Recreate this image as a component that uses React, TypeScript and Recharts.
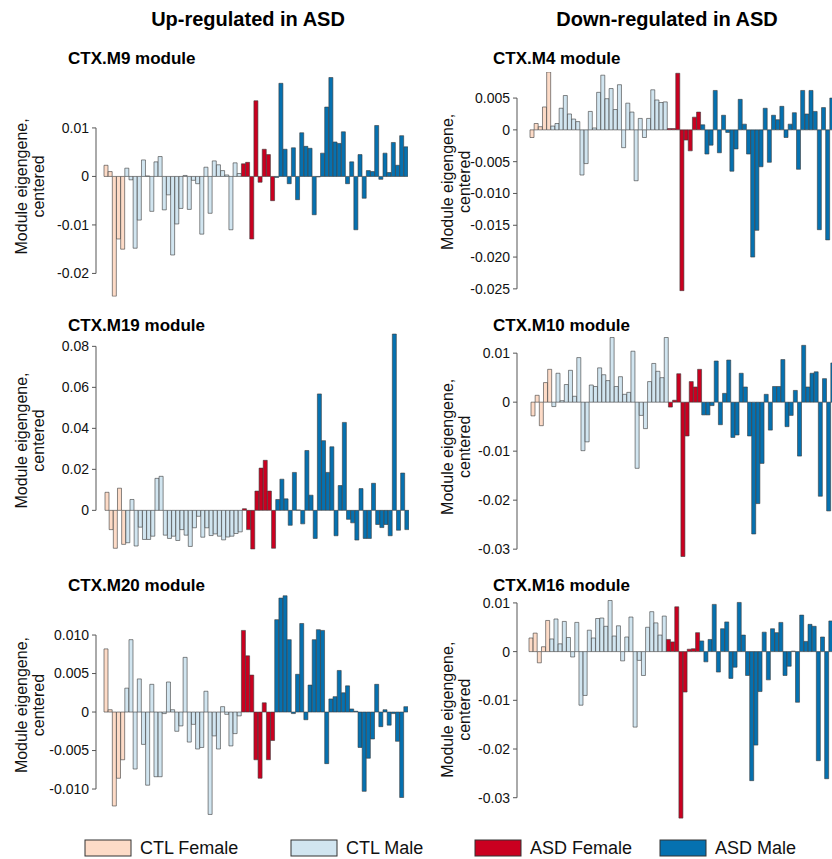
import React from "react";
import { BarChart, Bar, XAxis, YAxis, Cell } from "recharts";

const FONT = "'Liberation Sans', Arial, sans-serif";

// sample groups, in plotting order
const groupNames = ["CTL Female", "CTL Male", "ASD Female", "ASD Male"];
const groupColors = ["#FDDBC7", "#D1E5F0", "#CA0020", "#0571B0"];
const groupSizes = [5, 28, 8, 32];

// module eigengene values per sample
const m9 = [0.0023, 0.001, -0.0247, -0.0129, -0.015, 0.0017, -0.0007, -0.0148, -0.009, 0.0034, 0.0001, -0.0072, 0.003, 0.0041, -0.0069, -0.0038, -0.0162, -0.0098, -0.0066, 0.0002, -0.0068, -0.0008, -0.0015, -0.0119, 0.0019, -0.0076, 0.0032, 0.0024, 0.0012, 0.0003, -0.011, 0.0028, 0.0006, 0.0026, 0.0029, -0.0129, 0.0156, -0.0012, 0.0056, 0.0045, -0.005, -0.0002, 0.0192, 0.0056, -0.0015, 0.0059, -0.0048, 0.009, 0.0062, 0.0058, -0.0079, -0.0001, 0.0048, 0.0143, 0.0204, 0.0071, 0.0068, 0.0092, -0.0015, 0.003, -0.011, 0.0045, -0.0045, 0.0012, 0.001, 0.0105, -0.0006, 0.0048, 0.0008, 0.007, 0.0023, 0.0084, 0.0061];
const m19 = [0.0088, -0.0094, -0.0185, 0.0108, -0.0166, -0.0158, 0.0053, -0.0174, -0.0082, -0.0142, -0.0142, -0.0126, 0.0156, 0.0166, -0.0121, -0.0137, -0.0126, -0.0147, -0.0094, -0.0121, -0.0176, -0.0085, -0.0029, -0.0131, -0.0085, -0.0123, -0.0115, -0.0126, -0.0144, -0.013, -0.0126, -0.0113, -0.0105, 0.0008, -0.0094, -0.0189, 0.0094, 0.0206, 0.0244, 0.0094, -0.0185, 0.0053, 0.0152, 0.0056, -0.0073, 0.0185, 0.0002, -0.0066, 0.0292, 0.0074, -0.0137, 0.0568, 0.034, 0.0185, 0.031, -0.0124, 0.0121, 0.0429, -0.0044, -0.0061, -0.0145, 0.0106, -0.0137, -0.0137, 0.0132, -0.0069, -0.0084, -0.0069, -0.0124, 0.086, -0.0097, 0.0182, -0.0094];
const m20 = [0.0082, 0.0003, -0.0122, -0.0086, -0.0062, 0.0031, 0.0094, -0.0074, 0.0043, -0.0042, -0.0095, 0.0036, -0.0084, -0.0084, -0.0002, 0.0039, 0.0003, -0.0025, -0.0018, 0.0071, -0.0039, -0.0016, -0.0048, -0.0046, 0.0027, -0.0133, -0.0031, -0.0048, 0.0007, -0.0003, -0.0044, -0.0028, -0.0005, 0.0106, 0.0073, 0.0048, -0.0062, -0.0086, 0.0012, -0.0062, -0.0037, 0.012, 0.0148, 0.0151, 0.0094, -0.0002, 0.0049, 0.0115, -0.001, 0.0035, 0.0094, 0.0107, 0.0106, -0.0067, 0.0017, 0.002, 0.0054, 0.0025, 0.0034, 0.0004, 0.0001, -0.0046, -0.0103, -0.006, -0.0035, 0.0036, -0.0019, 0.0003, -0.0017, -0.0002, -0.0038, -0.0111, 0.0007];
const m4 = [-0.0012, 0.001, 0.0005, 0.0036, 0.0091, 0.0006, 0.001, 0.0034, 0.0054, 0.0025, 0.0017, 0.0013, -0.0071, -0.0053, 0.0029, 0.0003, 0.0059, 0.0086, 0.0049, 0.0065, 0.0032, 0.0071, -0.0028, 0.0042, 0.0028, -0.008, 0.0018, -0.0012, 0.0018, 0.0063, 0.0047, 0.0043, 0.0044, 0.0002, 0.0002, 0.0089, -0.0253, -0.0016, -0.0033, 0.002, 0.0028, 0.0008, -0.0038, -0.0024, 0.0062, -0.0036, 0.0023, -0.0004, -0.0065, -0.003, 0.0048, 0.0009, -0.0038, -0.02, -0.0158, -0.0058, 0.0034, -0.0051, 0.0023, 0.0016, 0.0037, -0.0012, 0.0009, 0.0027, -0.0062, 0.0062, 0.0025, 0.0062, 0.0029, -0.0157, 0.0035, -0.0173, 0.005];
const m10 = [-0.0028, 0.0014, -0.0048, 0.004, 0.0067, -0.0009, 0.0059, 0.0003, 0.0036, 0.0065, 0.0012, 0.0091, -0.0099, -0.0081, 0.0035, 0.0032, 0.007, 0.0056, 0.0044, 0.0132, 0.0032, 0.0052, 0.0016, 0.002, 0.0104, -0.0135, -0.0027, -0.0054, 0.0042, 0.0079, 0.0063, 0.005, 0.0132, -0.001, 0.0004, 0.0058, -0.0315, -0.0069, 0.0042, 0.0031, 0.0067, -0.0026, -0.0026, -0.0007, 0.0084, -0.0046, 0.0018, 0.0086, -0.0072, -0.0067, 0.0059, 0.0031, -0.0069, -0.0269, -0.0207, -0.0125, 0.0016, -0.0057, 0.0032, 0.0032, 0.0087, -0.005, -0.0027, 0.0024, -0.011, 0.0116, 0.0031, 0.0059, 0.0062, -0.0192, 0.0048, -0.0222, 0.008];
const m16 = [0.0028, 0.0038, -0.0023, 0.001, 0.0064, 0.0026, 0.0067, 0.0016, 0.0062, 0.0029, -0.0011, 0.006, -0.011, -0.009, 0.0044, 0.0028, 0.0068, 0.0069, 0.0052, 0.0105, 0.0032, 0.0053, -0.0019, 0.003, 0.0071, -0.0155, -0.0018, -0.0049, 0.005, 0.0082, 0.0059, 0.0034, 0.0073, 0.0025, 0.002, 0.0092, -0.0342, -0.0083, 0.0005, 0.0006, 0.0039, 0.0022, -0.0021, 0.0025, 0.0097, -0.0042, 0.0047, 0.0061, -0.0055, -0.0032, 0.0101, 0.0034, -0.0049, -0.0265, -0.0192, -0.0082, 0.004, -0.0058, 0.0047, 0.0039, 0.006, -0.0049, -0.003, 0.0001, -0.0104, 0.0075, 0.0021, 0.0056, 0.0052, -0.0224, 0.003, -0.0261, 0.0063];

// y axis ticks per module
const m9Ticks = [0.01, 0, -0.01, -0.02];
const m19Ticks = [0.08, 0.06, 0.04, 0.02, 0];
const m20Ticks = [0.01, 0.005, 0, -0.005, -0.01];
const m4Ticks = [0.005, 0, -0.005, -0.01, -0.015, -0.02, -0.025];
const m10Ticks = [0.01, 0, -0.01, -0.02, -0.03];
const m16Ticks = [0.01, 0, -0.01, -0.02, -0.03];

const sampleGroup: number[] = groupSizes.flatMap((n, g) => Array(n).fill(g));

const PLOT_W = 304;
const AXIS_W = 70;
const PAD_T = 10;
const PAD_B = 10;

// layout: axisX = y axis line, padL = gap to first bar, y0 = pixel of zero, s = px per unit
const panels = [
  { title: "CTX.M9 module", values: m9, ticks: m9Ticks, digits: 2, axisX: 96, padL: 8, y0: 176, s: 4850, hi: 0.0205, lo: -0.0248, titleY: 64 },
  { title: "CTX.M19 module", values: m19, ticks: m19Ticks, digits: 2, axisX: 96, padL: 9, y0: 510, s: 2050, hi: 0.087, lo: -0.0192, titleY: 331 },
  { title: "CTX.M20 module", values: m20, ticks: m20Ticks, digits: 3, axisX: 96, padL: 8, y0: 712, s: 7700, hi: 0.0152, lo: -0.0134, titleY: 591 },
  { title: "CTX.M4 module", values: m4, ticks: m4Ticks, digits: 3, axisX: 517, padL: 13, y0: 130, s: 6360, hi: 0.0091, lo: -0.0254, titleY: 64 },
  { title: "CTX.M10 module", values: m10, ticks: m10Ticks, digits: 2, axisX: 517, padL: 14, y0: 402, s: 4900, hi: 0.0133, lo: -0.0316, titleY: 331 },
  { title: "CTX.M16 module", values: m16, ticks: m16Ticks, digits: 2, axisX: 517, padL: 12, y0: 652, s: 4870, hi: 0.0106, lo: -0.0343, titleY: 591 },
];

function AxisTick(props: any) {
  const { y, payload, axisX, s, tMax, tMin, digits } = props;
  const v = payload.value;
  const label = v === 0 ? "0" : v.toFixed(digits);
  return (
    <g>
      <line x1={axisX - 4} x2={axisX} y1={y} y2={y} stroke="#555" strokeWidth={1} />
      {v === tMax && (
        <line x1={axisX} x2={axisX} y1={y} y2={y + (tMax - tMin) * s} stroke="#555" strokeWidth={1} />
      )}
      <text x={axisX - 7} y={y} dy="0.35em" textAnchor="end" fontSize={14} fill="#111" fontFamily={FONT}>
        {label}
      </text>
    </g>
  );
}

function Panel({ p }: any) {
  const plotH = (p.hi - p.lo) * p.s;
  const top = p.y0 - p.hi * p.s - PAD_T;
  const data = p.values.map((v: number, i: number) => ({ id: i + 1, v, g: sampleGroup[i] }));
  const tMax = Math.max(...p.ticks);
  const tMin = Math.min(...p.ticks);
  return (
    <div style={{ position: "absolute", left: p.axisX - AXIS_W, top }}>
      <BarChart
        width={AXIS_W + p.padL + PLOT_W}
        height={plotH + PAD_T + PAD_B}
        data={data}
        margin={{ top: PAD_T, right: 0, bottom: PAD_B, left: 0 }}
        barCategoryGap={0}
        barGap={0}
      >
        <XAxis dataKey="id" hide padding={{ left: p.padL, right: 0 }} />
        <YAxis
          width={AXIS_W}
          domain={[p.lo, p.hi]}
          ticks={p.ticks}
          allowDataOverflow
          axisLine={false}
          tickLine={false}
          interval={0}
          tick={<AxisTick axisX={AXIS_W} s={p.s} tMax={tMax} tMin={tMin} digits={p.digits} />}
        />
        <Bar dataKey="v" isAnimationActive={false} stroke="#3a3a3a" strokeWidth={0.6}>
          {data.map((d: any) => (
            <Cell key={d.id} fill={groupColors[d.g]} />
          ))}
        </Bar>
      </BarChart>
    </div>
  );
}

function YLabel({ x, y }: { x: number; y: number }) {
  return (
    <text transform={`translate(${x},${y}) rotate(-90)`} textAnchor="middle" fontSize={16} fontFamily={FONT} fill="#111">
      <tspan x={0} y={-3}>Module eigengene,</tspan>
      <tspan x={0} y={14}>centered</tspan>
    </text>
  );
}

export default function App() {
  const legendX = [85, 291, 475, 660];
  return (
    <div style={{ position: "absolute", left: 0, top: 0, width: 832, height: 859, overflow: "hidden", background: "#fff", fontFamily: FONT }}>
      <svg width={832} height={859} style={{ position: "absolute", left: 0, top: 0 }}>
        <text x={248} y={26} textAnchor="middle" fontSize={20} fontWeight="bold" fontFamily={FONT}>Up-regulated in ASD</text>
        <text x={667} y={26} textAnchor="middle" fontSize={20} fontWeight="bold" fontFamily={FONT}>Down-regulated in ASD</text>
        {panels.map((p) => {
          const left = p.axisX < 300;
          const mid = p.y0 - ((p.hi + p.lo) / 2) * p.s;
          return (
            <g key={p.title}>
              <text x={left ? 68 : 493} y={p.titleY} fontSize={17} fontWeight="bold" fontFamily={FONT}>{p.title}</text>
              <YLabel x={left ? 30 : 456} y={mid} />
            </g>
          );
        })}
        {groupNames.map((g, i) => (
          <g key={g}>
            <rect x={legendX[i]} y={840} width={46} height={16} fill={groupColors[i]} stroke="#333" strokeWidth={1} />
            <text x={legendX[i] + 55} y={854} fontSize={18} fontFamily={FONT} fill="#111">{g}</text>
          </g>
        ))}
      </svg>
      {panels.map((p) => (
        <Panel key={p.title} p={p} />
      ))}
    </div>
  );
}
